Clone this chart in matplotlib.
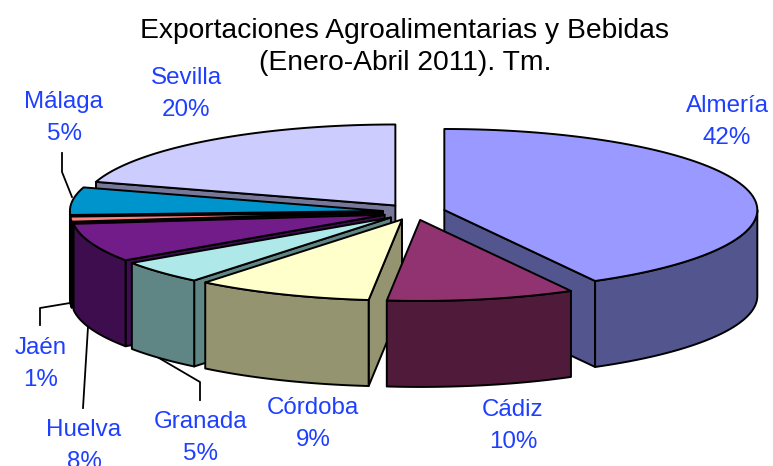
import numpy as np
import matplotlib
matplotlib.use("Agg")
import matplotlib.pyplot as plt

# shares in %, clockwise from 12 o'clock
provinces = ["Almería", "Cádiz", "Córdoba", "Granada", "Huelva", "Jaén", "Málaga", "Sevilla"]
shares = [42.0, 9.7, 9.12, 4.7, 7.7, 1.0, 5.49, 20.29]
top_colors = ["#9999FF", "#903370", "#FFFFCC", "#AEE8E8", "#721C8A", "#FF8080", "#0094CC", "#CCCCFF"]
side_colors = ["#53558F", "#501A3A", "#949470", "#5F8585", "#3E0D4E", "#300808", "#002030", "#77779A"]

# pie geometry, in pixels
cx, cy = 414, 212
rx, ry = 313, 81
depth = 86
explode = 0.10

# label centres and leader lines, in pixels
label_pos = {
    "Almería": (727, 122), "Cádiz": (513, 426), "Córdoba": (313, 424), "Granada": (201, 438),
    "Huelva": (84, 446), "Jaén": (41, 364), "Málaga": (64, 118), "Sevilla": (186, 94),
}
leaders = [
    ([62, 62, 72], [153, 172, 197]),
    ([40, 40, 70], [325, 308, 303]),
    ([83, 88], [408, 327]),
    ([200, 200, 159], [400, 382, 358]),
]

plt.rcParams["font.family"] = ["Liberation Sans", "DejaVu Sans"]
fig = plt.figure(figsize=(7.73, 4.66), dpi=100)
ax = fig.add_axes([0, 0, 1, 1])
ax.set_xlim(0, 773)
ax.set_ylim(466, 0)
ax.axis("off")


def rim(ax0, ay0, a, b):
    t = np.radians(np.linspace(a, b, 80))
    return ax0 + rx * np.sin(t), ay0 - ry * np.cos(t)


def poly(xs, ys, color, z):
    ax.fill(xs, ys, facecolor=color, edgecolor="black", lw=1.4, joinstyle="round", zorder=z)


def draw_slice(i, start, end, z):
    mid = np.radians((start + end) / 2)
    x0 = cx + explode * rx * np.sin(mid)
    y0 = cy - explode * ry * np.cos(mid)
    side = side_colors[i]
    # cut faces that look towards the viewer
    for ang, visible in ((start, np.sin(np.radians(start)) < 0), (end, np.sin(np.radians(end)) > 0)):
        if visible:
            xe, ye = rim(x0, y0, ang, ang)
            poly([x0, xe[0], xe[0], x0], [y0, ye[0], ye[0] + depth, y0 + depth], side, z)
    # outer wall, front half only
    lo, hi = max(start, 90), min(end, 270)
    if hi > lo:
        xr, yr = rim(x0, y0, lo, hi)
        poly(np.r_[xr, xr[::-1]], np.r_[yr, yr[::-1] + depth], side, z)
    # top
    xr, yr = rim(x0, y0, start, end)
    poly(np.r_[x0, xr], np.r_[y0, yr], top_colors[i], z)


edges = np.r_[0, np.cumsum(shares)] * 3.6
# back to front
order = [7, 6, 5, 4, 3, 2, 0, 1]
for z, i in enumerate(order):
    draw_slice(i, edges[i], edges[i + 1], z + 2)

for xs, ys in leaders:
    ax.plot(xs, ys, color="black", lw=1.3, zorder=1)

blue = "#1F3FFF"
for name, share in zip(provinces, shares):
    x, y = label_pos[name]
    ax.text(x, y, f"{name}\n{round(share)}%", color=blue, fontsize=17.4, ha="center", va="center",
            linespacing=1.62, zorder=20)

ax.text(405, 47, "Exportaciones Agroalimentarias y Bebidas\n(Enero-Abril 2011). Tm.", color="black",
        fontsize=20.3, ha="center", va="center", linespacing=1.3, zorder=20)

fig.savefig("out.png", dpi=100)
